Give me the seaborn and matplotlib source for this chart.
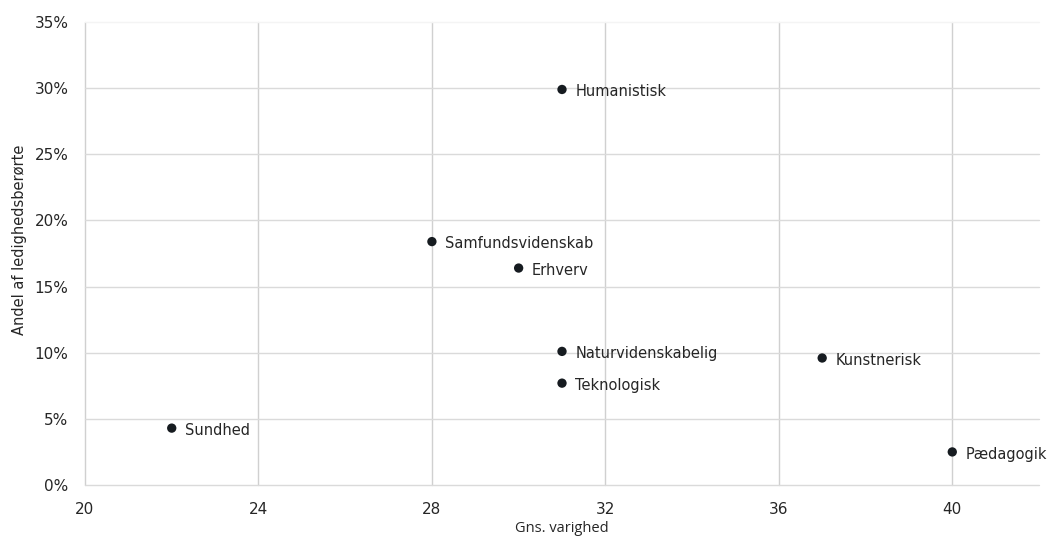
import matplotlib
matplotlib.use("Agg")
import matplotlib.pyplot as plt
import seaborn as sns
import pandas as pd
from matplotlib.ticker import PercentFormatter

# --- data ---
uddannelser = ['Humanistisk', 'Samfundsvidenskab', 'Erhverv', 'Naturvidenskabelig',
               'Teknologisk', 'Kunstnerisk', 'Sundhed', 'Pædagogik']
varighed = [31, 28, 30, 31, 31, 37, 22, 40]
andel = [29.9, 18.4, 16.4, 10.1, 7.7, 9.6, 4.3, 2.5]

df = pd.DataFrame({'uddannelse': uddannelser, 'varighed': varighed, 'andel': andel})

sns.set_theme(style="white")
plt.rcParams['font.family'] = ['DejaVu Sans']

fig = plt.figure(figsize=(10.57, 5.45), dpi=100)
ax = fig.add_axes([85 / 1057, 60 / 545, 954 / 1057, 463 / 545])

sns.scatterplot(data=df, x='varighed', y='andel', ax=ax, color='#161b20',
                s=45, edgecolor='none', zorder=3)

# etiketter ved punkterne
for _, r in df.iterrows():
    ax.annotate(r['uddannelse'], (r['varighed'], r['andel']), xytext=(9.5, -1.5),
                textcoords='offset points', va='center', ha='left',
                fontsize=10.5, color='#262626')

ax.set_xlim(20, 42)
ax.set_ylim(0, 35)
ax.set_xticks([20, 24, 28, 32, 36, 40])
ax.set_yticks(range(0, 36, 5))
ax.yaxis.set_major_formatter(PercentFormatter(decimals=0))
ax.xaxis.grid(True, color='#d0d0d0', linewidth=1)
ax.yaxis.grid(True, color='#dadada', linewidth=1)
for gl in ax.get_xgridlines() + ax.get_ygridlines():
    gl.set_clip_on(False)
ax.get_ygridlines()[-1].set_color('#f4f4f4')
ax.set_axisbelow(True)
for s in ax.spines.values():
    s.set_visible(False)
ax.tick_params(axis='both', length=0, labelsize=11, colors='#262626')
ax.tick_params(axis='x', pad=12)
ax.tick_params(axis='y', pad=12)

ax.set_xlabel('Gns. varighed', fontsize=10.5, family=['Open Sans', 'DejaVu Sans'],
              color='#262626', labelpad=3)
ax.set_ylabel('Andel af ledighedsberørte', fontsize=10.5, color='#262626')
ax.yaxis.set_label_coords(-0.061, 0.53)

fig.savefig('out.png', dpi=100)
